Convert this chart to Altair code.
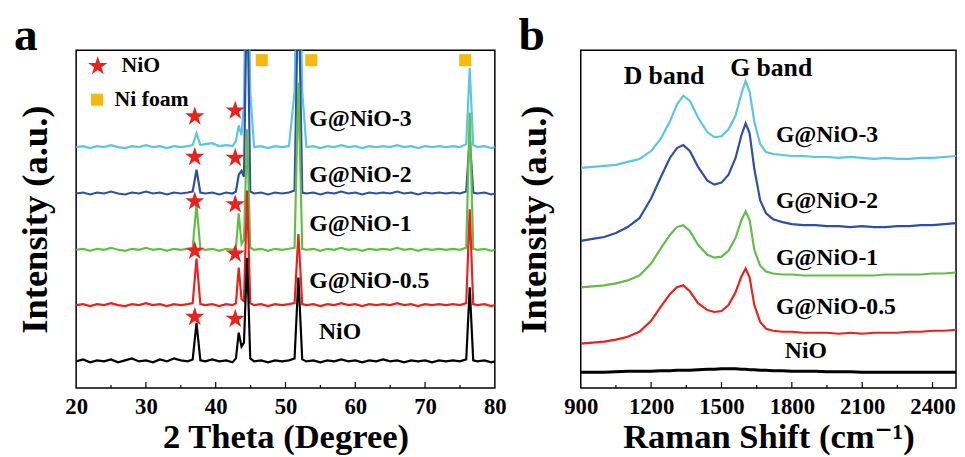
import altair as alt
import pandas as pd

# ---------------- data: panel a (XRD) ----------------
XRD_2THETA = [20, 21, 22, 23, 24, 25, 26, 27, 28, 29, 30, 31, 32, 33, 34, 35, 36,
              36.7, 37.25, 37.8, 38.5, 39.5, 40.5, 41.5, 42.4, 42.9, 43.3, 43.7, 44.05, 44.5, 44.95,
              45.5, 46.5, 47.5, 48.5, 49.5, 50.5, 51.3, 51.85, 52.4,
              53, 54, 55, 56, 57, 58, 59, 60, 61, 62, 63, 64, 65, 66, 67, 68, 69, 70, 71, 72, 73, 74, 75,
              75.9, 76.4, 76.9, 77.5, 78.5, 79.5, 80]

XRD_NIO = [27, 29, 26, 28, 27, 29, 26, 28, 30, 27, 28, 26, 29, 27, 30, 28, 27,
           29, 66, 28, 27, 29, 27, 28, 26, 30, 56, 42, 46, 132, 30,
           27, 28, 26, 28, 27, 28, 30, 112, 29,
           27, 28, 26, 28, 27, 29, 27, 28, 26, 28, 27, 29, 27, 28, 26, 28, 27, 28, 26, 28, 27, 28, 27,
           29, 102, 28, 27, 28, 26, 27]
XRD_G05 = [84, 85, 83, 85, 84, 86, 84, 83, 85, 84, 86, 84, 85, 83, 85, 84, 85,
           86, 131, 85, 84, 85, 83, 85, 84, 86, 122, 90, 88, 200, 86,
           84, 85, 83, 85, 84, 85, 86, 156, 85,
           84, 85, 83, 85, 84, 86, 84, 85, 83, 85, 84, 85, 84, 86, 84, 85, 83, 85, 84, 85, 84, 85, 84,
           86, 181, 85, 84, 85, 83, 84]
XRD_G1 = [140, 141, 139, 141, 140, 142, 140, 139, 141, 140, 142, 140, 141, 139, 141, 140, 141,
          142, 186, 141, 140, 141, 139, 141, 140, 142, 177, 146, 150, 262, 142,
          140, 141, 139, 141, 140, 141, 142, 309, 141,
          140, 141, 139, 141, 140, 142, 140, 141, 139, 141, 140, 141, 140, 142, 140, 141, 139, 141, 140, 141, 140, 141, 140,
          142, 279, 141, 140, 141, 139, 140]
XRD_G2 = [197, 198, 196, 198, 197, 199, 197, 196, 198, 197, 199, 197, 198, 196, 198, 197, 198,
          199, 221, 198, 197, 198, 196, 198, 197, 199, 216, 220, 214, 420, 199,
          197, 198, 196, 198, 197, 198, 200, 420, 198,
          197, 198, 196, 198, 197, 199, 197, 198, 196, 198, 197, 198, 197, 199, 197, 198, 196, 198, 197, 198, 197, 198, 197,
          199, 254, 198, 197, 198, 196, 197]
XRD_G3 = [244, 245, 243, 245, 244, 246, 244, 243, 245, 244, 246, 244, 245, 243, 245, 244, 245,
          246, 258, 246, 247, 248, 245, 246, 245, 250, 266, 256, 290, 520, 300,
          244, 245, 243, 245, 244, 245, 300, 520, 300,
          244, 245, 243, 245, 244, 246, 244, 245, 243, 245, 244, 245, 244, 246, 244, 245, 243, 245, 244, 245, 244, 245, 244,
          247, 324, 246, 244, 245, 243, 244]

SAMPLES = ["G@NiO-3", "G@NiO-2", "G@NiO-1", "G@NiO-0.5", "NiO"]
XRD_LABEL_X = [53.4, 53.4, 53.4, 53.4, 54.8]
XRD_LABEL_Y = [272, 216, 166, 108, 57]

STAR_2THETA = [37.0, 42.8, 37.0, 42.8, 37.0, 42.8, 37.0, 42.8, 37.0, 42.8, 23.1]
STAR_Y = [275, 281, 234, 233, 189, 186, 139, 136, 72, 70, 326]
SQUARE_2THETA = [46.6, 53.7, 75.75, 23.0]
SQUARE_Y = [332, 332, 332, 292]
LEGEND_TEXT = ["NiO", "Ni foam"]
LEGEND_X = [26.5, 25.5]
LEGEND_Y = [327, 293]

XRD_MAJOR = [30, 40, 50, 60, 70]
XRD_MINOR = [25, 35, 45, 55, 65, 75]
XRD_TICKS = [20, 30, 40, 50, 60, 70, 80]

# ---------------- data: panel b (Raman) ----------------
RAMAN_SHIFT = [900, 950, 1000, 1050, 1100, 1150, 1200, 1240, 1280, 1310, 1337, 1365, 1400, 1440, 1470,
               1500, 1530, 1560, 1585, 1603, 1620, 1640, 1665, 1690, 1720, 1760, 1800, 1850, 1900, 1950,
               2000, 2050, 2100, 2150, 2200, 2250, 2300, 2350, 2400, 2450, 2500]
RAMAN_G3 = [223, 224, 225, 226, 229, 232, 240, 252, 270, 287, 296, 291, 274, 259, 254,
            255, 262, 276, 298, 311, 300, 270, 247, 239, 237, 236, 235, 235, 234, 234,
            233, 234, 233, 232, 233, 232, 232, 233, 233, 234, 235]
RAMAN_G2 = [149, 151, 153, 157, 163, 172, 192, 213, 233, 243, 246, 240, 224, 210, 206,
            208, 216, 233, 256, 268, 258, 222, 190, 177, 171, 168, 166, 165, 165, 164,
            164, 163, 164, 163, 163, 164, 164, 165, 165, 166, 167]
RAMAN_G1 = [102, 103, 104, 106, 109, 114, 126, 141, 155, 163, 165, 159, 145, 135, 132,
            133, 139, 152, 170, 179, 170, 140, 124, 118, 116, 115, 115, 114, 114, 114,
            114, 114, 114, 114, 115, 115, 115, 115, 116, 116, 117]
RAMAN_G05 = [45, 46, 47, 49, 52, 57, 68, 82, 95, 102, 104, 98, 86, 79, 77,
             78, 84, 97, 113, 121, 112, 84, 67, 60, 58, 57, 57, 56, 56, 56,
             55, 56, 55, 56, 56, 56, 57, 57, 58, 58, 59]
RAMAN_NIO = [16, 16, 16, 16.5, 17, 17, 17, 17.5, 17.5, 18, 18, 18, 18.5, 19, 19,
             19.5, 19.5, 19.5, 19, 19, 18.5, 18.5, 18, 18, 17.5, 17.5, 17, 17, 17, 16.5,
             16.5, 16.5, 16, 16, 16, 16, 16, 16, 16, 16, 16]

RAMAN_LABEL_X = [1732, 1732, 1732, 1732, 1770]
RAMAN_LABEL_Y = [256, 189, 132, 82, 37]
BAND_TEXT = ["D band", "G band"]
BAND_X = [1083, 1537]
BAND_Y = [316, 324]

RAMAN_MAJOR = [1200, 1500, 1800, 2100, 2400]
RAMAN_MINOR = [1050, 1350, 1650, 1950, 2250]
RAMAN_TICKS = [900, 1200, 1500, 1800, 2100, 2400]

# ---------------- styles ----------------
FONT = "'Liberation Serif', 'Times New Roman', Times, 'DejaVu Serif', serif"
COLORS = {"G@NiO-3": "#5BC5E3", "G@NiO-2": "#2F4FA6", "G@NiO-1": "#62BD48",
          "G@NiO-0.5": "#E8221E", "NiO": "#000000"}
STAR_COLOR = "#E8231F"
SQUARE_COLOR = "#F8B80F"
STAR_PATH = ("M0,-1L0.2245,-0.309L0.951,-0.309L0.3633,0.118L0.5878,0.809L0,0.382"
             "L-0.5878,0.809L-0.3633,0.118L-0.951,-0.309L-0.2245,-0.309Z")
H = 342
W_A = 424
W_B = 380


def make_panel(xs, series, xdomain, xticks, major, minor, xtitle, ytitle_pad, width,
               label_x, label_y, letter, extra_layers_fn, line_widths):
    xsc = alt.Scale(domain=xdomain, nice=False, zero=False)
    ysc = alt.Scale(domain=[0, H], nice=False, zero=False)
    x_axis = alt.Axis(values=xticks, format="d", ticks=False, domain=False, grid=False,
                      labelFont=FONT, labelFontSize=23, labelFontWeight="bold", labelColor="black",
                      labelPadding=8, labelFlush=False, labelOverlap=False,
                      title=xtitle, titleFont=FONT, titleFontSize=35, titleFontWeight="bold",
                      titleColor="black", titlePadding=1)
    y_axis = alt.Axis(labels=False, ticks=False, domain=False, grid=False,
                      title="Intensity (a.u.)", titleFont=FONT, titleFontSize=37,
                      titleFontWeight="bold", titleColor="black", titlePadding=ytitle_pad)
    X = alt.X("x:Q", scale=xsc, axis=x_axis)
    Y = alt.Y("y:Q", scale=ysc, axis=y_axis)

    layers = []
    for name, ys in series:
        df = pd.DataFrame({"x": xs, "y": ys})
        layers.append(alt.Chart(df).mark_line(color=COLORS[name], strokeWidth=line_widths.get(name, 2.2),
                                              clip=True).encode(x=X, y=Y))
    layers += extra_layers_fn(X, Y)

    ldf = pd.DataFrame({"x": label_x, "y": label_y, "t": SAMPLES})
    layers.append(alt.Chart(ldf).mark_text(font=FONT, fontSize=24, fontWeight="bold", color="black",
                                           align="left", baseline="middle").encode(x=X, y=Y, text="t:N"))
    layers.append(alt.Chart(pd.DataFrame({"x": major})).mark_rule(color="black", strokeWidth=1.2)
                  .encode(x=X, y=alt.value(H), y2=alt.value(H - 6)))
    layers.append(alt.Chart(pd.DataFrame({"x": minor})).mark_rule(color="black", strokeWidth=1.2)
                  .encode(x=X, y=alt.value(H), y2=alt.value(H - 3)))
    layers.append(alt.Chart(pd.DataFrame({"t": [letter]})).mark_text(
        font=FONT, fontSize=48, fontWeight="bold", color="black", align="left", baseline="alphabetic")
        .encode(x=alt.value(-63), y=alt.value(0), text="t:N"))
    return alt.layer(*layers).properties(width=width, height=H)


def xrd_extras(X, Y):
    out = []
    sdf = pd.DataFrame({"x": STAR_2THETA, "y": STAR_Y})
    out.append(alt.Chart(sdf).mark_point(shape=STAR_PATH, filled=True, color=STAR_COLOR, size=420,
                                         opacity=1, strokeWidth=0).encode(x=X, y=Y))
    qdf = pd.DataFrame({"x": SQUARE_2THETA, "y": SQUARE_Y})
    out.append(alt.Chart(qdf).mark_point(shape="square", filled=True, color=SQUARE_COLOR, size=150,
                                         opacity=1, strokeWidth=0).encode(x=X, y=Y))
    tdf = pd.DataFrame({"x": LEGEND_X, "y": LEGEND_Y, "t": LEGEND_TEXT})
    out.append(alt.Chart(tdf).mark_text(font=FONT, fontSize=22, fontWeight="bold", color="black",
                                        align="left", baseline="middle").encode(x=X, y=Y, text="t:N"))
    return out


def raman_extras(X, Y):
    bdf = pd.DataFrame({"x": BAND_X, "y": BAND_Y, "t": BAND_TEXT})
    return [alt.Chart(bdf).mark_text(font=FONT, fontSize=26, fontWeight="bold", color="black",
                                     align="left", baseline="middle").encode(x=X, y=Y, text="t:N")]


panel_a = make_panel(
    XRD_2THETA,
    [("G@NiO-3", XRD_G3), ("G@NiO-2", XRD_G2), ("G@NiO-1", XRD_G1), ("G@NiO-0.5", XRD_G05), ("NiO", XRD_NIO)],
    [20, 80], XRD_TICKS, XRD_MAJOR, XRD_MINOR, "2 Theta (Degree)", 22, W_A,
    XRD_LABEL_X, XRD_LABEL_Y, "a", xrd_extras, {})

panel_b = make_panel(
    RAMAN_SHIFT,
    [("G@NiO-3", RAMAN_G3), ("G@NiO-2", RAMAN_G2), ("G@NiO-1", RAMAN_G1), ("G@NiO-0.5", RAMAN_G05), ("NiO", RAMAN_NIO)],
    [900, 2500], RAMAN_TICKS, RAMAN_MAJOR, RAMAN_MINOR, "Raman Shift (cm\u207b\u00b9)", 28, W_B,
    RAMAN_LABEL_X, RAMAN_LABEL_Y, "b", raman_extras, {"NiO": 3})

chart = alt.hconcat(panel_a, panel_b, spacing=87, bounds="flush").configure_view(
    stroke="black", strokeWidth=1.5
).properties(
    padding={"left": 5, "top": 1, "right": 0, "bottom": 0},
    background="white",
)

chart.save("out.html", embed_options={"renderer": "svg", "actions": False})
